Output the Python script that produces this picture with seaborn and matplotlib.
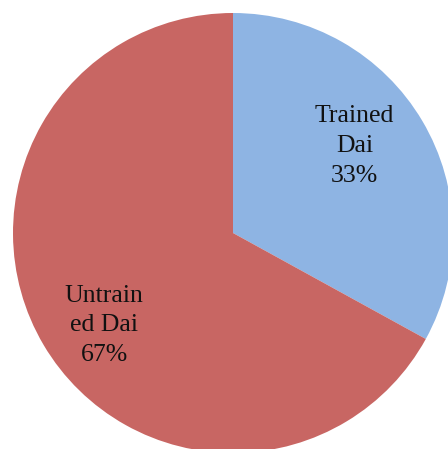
import matplotlib
matplotlib.use("Agg")
import matplotlib.pyplot as plt
import numpy as np
import seaborn as sns

categories = ["Trained\nDai", "Untrain\ned Dai"]
values = [33, 67]
colors = ["#8EB4E3", "#C86663"]

sns.set_theme(style="white")
plt.rcParams['font.family'] = ['Liberation Serif', 'DejaVu Serif']

fig = plt.figure(figsize=(4.48, 4.49), dpi=100)
ax = fig.add_axes([0, 0, 1, 1])

total = sum(values)
labels = [f"{c}\n{round(v / total * 100)}%" for c, v in zip(categories, values)]

wedges, texts = ax.pie(values, labels=labels, colors=sns.color_palette(colors),
                       startangle=90, counterclock=False, radius=1,
                       labeldistance=0.7,
                       wedgeprops=dict(linewidth=0),
                       textprops=dict(ha='center', va='center', fontsize=18.5,
                                      color='#111111', linespacing=1.45))

# Excel-style label placement: a bit rotated from the wedge middle
for w, t, r in zip(wedges, texts, [0.68, 0.72]):
    mid = np.deg2rad((w.theta1 + w.theta2) / 2 + 5)
    t.set_position((r * np.cos(mid), r * np.sin(mid)))

# pie is slightly cropped on the right and bottom edges
ax.set_xlim(-233 / 220, 215 / 220)
ax.set_ylim(-216 / 220, 233 / 220)
ax.set_aspect('equal')
ax.axis('off')

fig.savefig("out.png", dpi=100)
